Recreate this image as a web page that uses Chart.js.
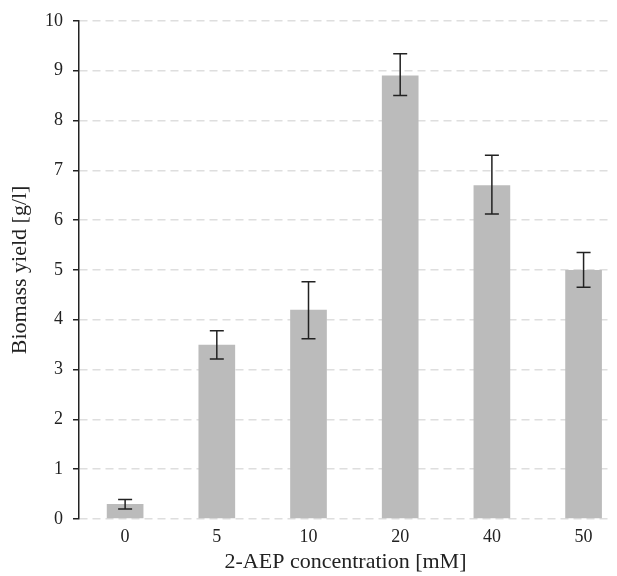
<!DOCTYPE html>
<html>
<head>
<meta charset="utf-8">
<script src="https://cdn.jsdelivr.net/npm/chart.js@4/dist/chart.umd.min.js"></script>
<style>
    body { margin: 0; background: #fff; }
    #chartCanvas { display: block; }
</style>
</head>
<body>
<canvas id="chartCanvas" width="617" height="576"></canvas>
<script>
const categories = ["0", "5", "10", "20", "40", "50"];
const yieldValues = [0.3, 3.5, 4.2, 8.9, 6.7, 5.0];
const errorLow = [0.2, 3.21, 3.62, 8.5, 6.12, 4.65];
const errorHigh = [0.39, 3.78, 4.76, 9.34, 7.3, 5.35];
const yTicks = [0, 1, 2, 3, 4, 5, 6, 7, 8, 9, 10];

const serif = "'Liberation Serif', 'DejaVu Serif', serif";

// whiskers drawn with the chart's own scales
const errorBars = {
    id: "errorBars",
    afterDatasetsDraw(chart) {
        const ctx = chart.ctx;
        const x = chart.scales.x;
        const y = chart.scales.y;
        ctx.save();
        ctx.strokeStyle = "#222";
        ctx.lineWidth = 1.5;
        yieldValues.forEach((v, i) => {
            const px = x.getPixelForValue(i);
            const top = y.getPixelForValue(errorHigh[i]);
            const bot = y.getPixelForValue(errorLow[i]);
            ctx.beginPath();
            ctx.moveTo(px, top); ctx.lineTo(px, bot);
            ctx.moveTo(px - 7, top); ctx.lineTo(px + 7, top);
            ctx.moveTo(px - 7, bot); ctx.lineTo(px + 7, bot);
            ctx.stroke();
        });
        ctx.restore();
    }
};

new Chart(document.getElementById("chartCanvas"), {
    type: "bar",
    data: {
        datasets: [{
            data: yieldValues.map((v, i) => ({ x: i, y: v })),
            backgroundColor: "#bbbbbb",
            borderWidth: 0,
            barPercentage: 0.4,
            categoryPercentage: 1.0
        }]
    },
    options: {
        responsive: false,
        animation: false,
        layout: { padding: { top: 18, right: 5, left: 0, bottom: 0 } },
        plugins: { legend: { display: false }, tooltip: { enabled: false } },
        scales: {
            x: {
                type: "linear",
                offset: false,
                min: -0.503,
                max: 5.31,
                afterBuildTicks: s => { s.ticks = categories.map((c, i) => ({ value: i })); },
                afterFit: s => { s.height = 57; },
                grid: { display: false, drawTicks: false },
                border: { display: false },
                ticks: {
                    callback: (v) => categories[v],
                    font: { family: serif, size: 18 },
                    color: "#222",
                    padding: 7,
                    maxRotation: 0
                },
                title: {
                    display: true,
                    text: "2-AEP concentration [mM]",
                    font: { family: serif, size: 22 },
                    color: "#222",
                    padding: { top: 0, bottom: 1 }
                }
            },
            y: {
                min: 0,
                max: 10,
                afterBuildTicks: s => { s.ticks = yTicks.map(v => ({ value: v })); },
                afterFit: s => { s.width = 79; },
                grid: {
                    color: "#dedede",
                    lineWidth: 1.5,
                    tickColor: "#222",
                    tickWidth: 1.5,
                    tickLength: 6,
                    tickBorderDash: []
                },
                border: { display: true, color: "#222", width: 1.5, dash: [8, 5] },
                ticks: {
                    font: { family: serif, size: 18 },
                    color: "#222",
                    padding: 10
                },
                title: {
                    display: true,
                    text: "Biomass yield [g/l]",
                    font: { family: serif, size: 22 },
                    color: "#222",
                    padding: { top: 7, bottom: 0 }
                }
            }
        }
    },
    plugins: [errorBars]
});
</script>
</body>
</html>
